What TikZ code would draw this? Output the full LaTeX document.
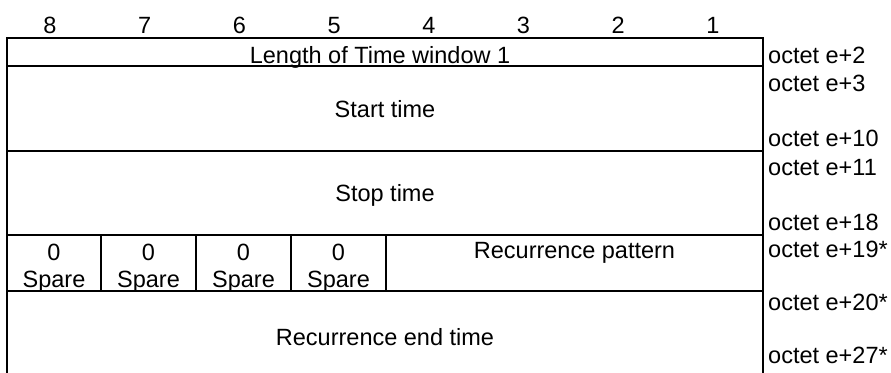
\documentclass[tikz,border=0pt]{standalone}
\usepackage{fontspec}
\setmainfont{Liberation Sans}
\begin{document}
\begin{tikzpicture}[x=1pt,y=-1pt,
  frame/.style={line width=2pt, line cap=rect},
  txt/.style={inner sep=0pt, anchor=base, font=\fontsize{23.5}{26}\selectfont},
  lbl/.style={inner sep=0pt, anchor=base west, font=\fontsize{23.5}{26}\selectfont}]
\useasboundingbox (0,0) rectangle (891,372);
% frame
\draw[frame] (7,373) -- (7,38) -- (763,38) -- (763,373);
\draw[frame] (7,66) -- (763,66);
\draw[frame] (7,151) -- (763,151);
\draw[frame] (7,235) -- (763,235);
\draw[frame] (7,291) -- (763,291);
\foreach \x in {100.5,196,291,386} \draw[frame] (\x,235) -- (\x,291);
% bit numbers
\foreach \n [count=\i from 0] in {8,7,6,5,4,3,2,1}
  \node[txt] (b\n) at ({50+94.7*\i},33) {\n};
% field texts
\node[txt] (len) at (380,63) {Length of Time window 1};
\node[txt] (start) at (385,117) {Start time};
\node[txt] (stop) at (385,201) {Stop time};
\foreach \cx [count=\i] in {54,148.5,243.5,338.5} {
  \node[txt] (z\i) at (\cx,260) {0};
  \node[txt] (s\i) at (\cx,287) {Spare};
}
\node[txt] (rp) at (574.5,258) {Recurrence pattern};
\node[txt] (ret) at (385,345) {Recurrence end time};
% octet labels
\node[lbl] (o2) at (768,63) {octet e+2};
\node[lbl] (o3) at (768,91) {octet e+3};
\node[lbl] (o10) at (768,146) {octet e+10};
\node[lbl] (o11) at (768,175) {octet e+11};
\node[lbl] (o18) at (768,230) {octet e+18};
\node[lbl] (o19) at (768,257) {octet e+19*};
\node[lbl] (o20) at (768,310) {octet e+20*};
\node[lbl] (o27) at (768,363) {octet e+27*};
\end{tikzpicture}
\end{document}
